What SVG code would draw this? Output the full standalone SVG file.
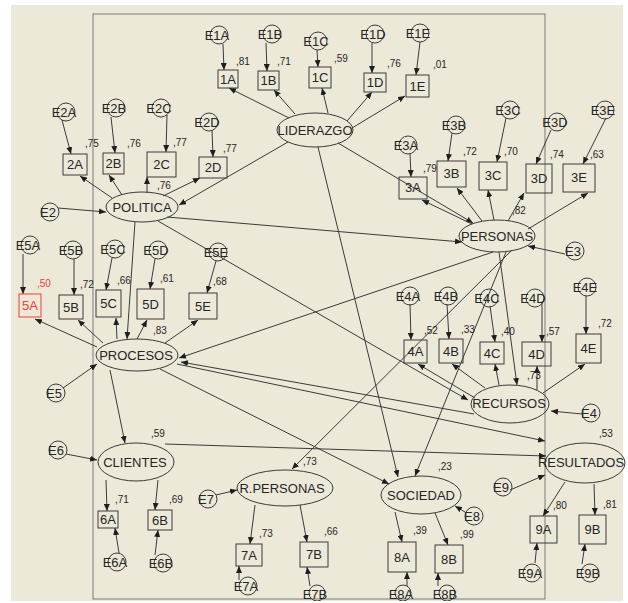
<svg xmlns="http://www.w3.org/2000/svg" width="628" height="603" viewBox="0 0 628 603">
<style>
text{font-family:"Liberation Sans",Arial,sans-serif;fill:#262626}
.t{font-size:13px;text-anchor:middle}
.n{font-size:10px}
.r{fill:#f03c3c}
.b{fill:none;stroke:#3a3a3a;stroke-width:1}
.e{fill:none;stroke:#3a3a3a;stroke-width:1}
.c line{stroke:#3a3a3a;stroke-width:1;marker-end:url(#ah)}
</style>
<defs>
<marker id="ah" markerUnits="userSpaceOnUse" markerWidth="7" markerHeight="6" refX="7" refY="3" orient="auto"><path d="M0,0 L7,3 L0,6 z" fill="#1e1e1e"/></marker>
<clipPath id="cp"><rect x="0" y="0" width="628" height="601"/></clipPath>
</defs>
<rect x="0" y="0" width="628" height="603" fill="#ffffff"/>
<rect x="11" y="5" width="612" height="596" fill="#ece9d8"/>
<g clip-path="url(#cp)">
<rect x="93" y="14" width="452" height="585" fill="none" stroke="#7a7a7a" stroke-width="1"/>
<g id="connectors" class="c">
<line x1="223" y1="44" x2="224" y2="70"/>
<line x1="266" y1="43" x2="267" y2="71"/>
<line x1="317" y1="50" x2="318" y2="67"/>
<line x1="372" y1="43" x2="372" y2="73"/>
<line x1="420" y1="42" x2="416" y2="75"/>
<line x1="289" y1="118" x2="229" y2="88"/>
<line x1="295" y1="114" x2="274" y2="90"/>
<line x1="328" y1="113" x2="322" y2="88"/>
<line x1="347" y1="121" x2="372" y2="92"/>
<line x1="352" y1="128" x2="405" y2="96"/>
<line x1="288" y1="142" x2="179" y2="205"/>
<line x1="338" y1="143" x2="473" y2="223"/>
<line x1="318" y1="147" x2="398" y2="477"/>
<line x1="62" y1="120" x2="71" y2="154"/>
<line x1="111" y1="117" x2="115" y2="153"/>
<line x1="167" y1="115" x2="166" y2="152"/>
<line x1="212" y1="130" x2="213" y2="157"/>
<line x1="112" y1="198" x2="80" y2="176"/>
<line x1="122" y1="195" x2="109" y2="175"/>
<line x1="147" y1="193" x2="147" y2="177"/>
<line x1="163" y1="196" x2="200" y2="178"/>
<line x1="58" y1="208" x2="106" y2="212"/>
<line x1="167" y1="217" x2="462" y2="242"/>
<line x1="158" y1="221" x2="468" y2="400"/>
<line x1="135" y1="222" x2="127" y2="339"/>
<line x1="410" y1="153" x2="411" y2="177"/>
<line x1="452" y1="133" x2="448" y2="161"/>
<line x1="506" y1="118" x2="497" y2="162"/>
<line x1="551" y1="130" x2="536" y2="164"/>
<line x1="606" y1="118" x2="583" y2="164"/>
<line x1="472" y1="224" x2="422" y2="200"/>
<line x1="482" y1="221" x2="457" y2="188"/>
<line x1="494" y1="220" x2="488" y2="190"/>
<line x1="508" y1="221" x2="524" y2="193"/>
<line x1="528" y1="229" x2="588" y2="193"/>
<line x1="565" y1="254" x2="528" y2="246"/>
<line x1="499" y1="252" x2="517" y2="385"/>
<line x1="493" y1="252" x2="179" y2="358"/>
<line x1="512" y1="250" x2="292" y2="469"/>
<line x1="506" y1="252" x2="415" y2="476"/>
<line x1="23" y1="254" x2="23" y2="294"/>
<line x1="74" y1="259" x2="74" y2="295"/>
<line x1="112" y1="258" x2="106" y2="290"/>
<line x1="155" y1="259" x2="150" y2="289"/>
<line x1="216" y1="261" x2="207" y2="293"/>
<line x1="97" y1="347" x2="35" y2="319"/>
<line x1="103" y1="343" x2="78" y2="320"/>
<line x1="117" y1="339" x2="116" y2="318"/>
<line x1="137" y1="339" x2="147" y2="320"/>
<line x1="165" y1="343" x2="198" y2="320"/>
<line x1="63" y1="388" x2="97" y2="364"/>
<line x1="110" y1="370" x2="125" y2="443"/>
<line x1="160" y1="369" x2="389" y2="484"/>
<line x1="177" y1="364" x2="545" y2="441"/>
<line x1="474" y1="414" x2="181" y2="362"/>
<line x1="410" y1="304" x2="411" y2="340"/>
<line x1="447" y1="304" x2="449" y2="339"/>
<line x1="490" y1="306" x2="495" y2="342"/>
<line x1="542" y1="302" x2="542" y2="342"/>
<line x1="586" y1="296" x2="586" y2="334"/>
<line x1="475" y1="398" x2="418" y2="364"/>
<line x1="485" y1="388" x2="452" y2="364"/>
<line x1="499" y1="385" x2="495" y2="364"/>
<line x1="537" y1="390" x2="537" y2="366"/>
<line x1="543" y1="393" x2="585" y2="364"/>
<line x1="582" y1="414" x2="551" y2="411"/>
<line x1="106" y1="480" x2="107" y2="511"/>
<line x1="158" y1="480" x2="155" y2="510"/>
<line x1="119" y1="553" x2="115" y2="528"/>
<line x1="155" y1="555" x2="158" y2="530"/>
<line x1="66" y1="454" x2="97" y2="460"/>
<line x1="165" y1="444" x2="546" y2="456"/>
<line x1="216" y1="495" x2="237" y2="490"/>
<line x1="255" y1="505" x2="250" y2="544"/>
<line x1="300" y1="505" x2="307" y2="542"/>
<line x1="239" y1="580" x2="239" y2="566"/>
<line x1="310" y1="586" x2="307" y2="567"/>
<line x1="395" y1="512" x2="402" y2="542"/>
<line x1="435" y1="513" x2="448" y2="545"/>
<line x1="465" y1="512" x2="455" y2="506"/>
<line x1="407" y1="586" x2="407" y2="572"/>
<line x1="438" y1="586" x2="438" y2="573"/>
<line x1="510" y1="490" x2="545" y2="475"/>
<line x1="565" y1="482" x2="543" y2="516"/>
<line x1="594" y1="484" x2="595" y2="515"/>
<line x1="535" y1="563" x2="537" y2="543"/>
<line x1="582" y1="564" x2="585" y2="544"/>
</g>
<g id="LIDERAZGO"><ellipse class="e" cx="315" cy="130" rx="38" ry="17"/><text class="t" x="315" y="135">LIDERAZGO</text></g>
<g id="POLITICA"><ellipse class="e" cx="142" cy="207" rx="36" ry="15"/><text class="t" x="142" y="212">POLITICA</text><text class="n" x="157" y="189">,76</text></g>
<g id="PERSONAS"><ellipse class="e" cx="497" cy="236" rx="38" ry="16"/><text class="t" x="497" y="241">PERSONAS</text><text class="n" x="512" y="214">,82</text></g>
<g id="PROCESOS"><ellipse class="e" cx="137" cy="355" rx="41" ry="16"/><text class="t" x="136" y="360">PROCESOS</text><text class="n" x="153" y="334">,83</text></g>
<g id="RECURSOS"><ellipse class="e" cx="510" cy="404" rx="39" ry="19"/><text class="t" x="509" y="408">RECURSOS</text><text class="n" x="527" y="379">,73</text></g>
<g id="CLIENTES"><ellipse class="e" cx="136" cy="462" rx="38" ry="19"/><text class="t" x="135" y="467">CLIENTES</text><text class="n" x="151" y="437">,59</text></g>
<g id="RPERSONAS"><ellipse class="e" cx="285" cy="488" rx="48" ry="18"/><text class="t" x="282" y="493">R.PERSONAS</text><text class="n" x="303" y="465">,73</text></g>
<g id="SOCIEDAD"><ellipse class="e" cx="421" cy="495" rx="40" ry="19"/><text class="t" x="421" y="500">SOCIEDAD</text><text class="n" x="438" y="470">,23</text></g>
<g id="RESULTADOS"><ellipse class="e" cx="585" cy="463" rx="40" ry="20"/><text class="t" x="581" y="467">RESULTADOS</text><text class="n" x="599" y="437">,53</text></g>
<g id="v1A"><rect class="b" x="218" y="70" width="20" height="18"/><text class="t" x="228" y="84">1A</text><text class="n" x="236" y="65">,81</text></g>
<g id="v1B"><rect class="b" x="258" y="71" width="21" height="19"/><text class="t" x="268.5" y="85">1B</text><text class="n" x="277" y="65">,71</text></g>
<g id="v1C"><rect class="b" x="309" y="67" width="22" height="21"/><text class="t" x="320" y="82">1C</text><text class="n" x="334" y="62">,59</text></g>
<g id="v1D"><rect class="b" x="364" y="73" width="22" height="19"/><text class="t" x="375" y="87">1D</text><text class="n" x="387" y="67">,76</text></g>
<g id="v1E"><rect class="b" x="406" y="75" width="23" height="22"/><text class="t" x="417.5" y="91">1E</text><text class="n" x="433" y="68">,01</text></g>
<g id="v2A"><rect class="b" x="63" y="154" width="24" height="21"/><text class="t" x="75" y="169">2A</text><text class="n" x="85" y="147">,75</text></g>
<g id="v2B"><rect class="b" x="103" y="153" width="21" height="21"/><text class="t" x="113.5" y="168">2B</text><text class="n" x="127" y="147">,76</text></g>
<g id="v2C"><rect class="b" x="147" y="152" width="29" height="25"/><text class="t" x="161.5" y="169">2C</text><text class="n" x="173" y="146">,77</text></g>
<g id="v2D"><rect class="b" x="199" y="157" width="28" height="21"/><text class="t" x="213" y="172">2D</text><text class="n" x="223" y="152">,77</text></g>
<g id="v3A"><rect class="b" x="399" y="177" width="28" height="22"/><text class="t" x="413" y="192">3A</text><text class="n" x="423" y="172">,79</text></g>
<g id="v3B"><rect class="b" x="437" y="161" width="29" height="26"/><text class="t" x="451.5" y="178">3B</text><text class="n" x="463" y="155">,72</text></g>
<g id="v3C"><rect class="b" x="479" y="162" width="28" height="28"/><text class="t" x="493" y="180">3C</text><text class="n" x="504" y="155">,70</text></g>
<g id="v3D"><rect class="b" x="526" y="164" width="26" height="29"/><text class="t" x="539" y="183">3D</text><text class="n" x="550" y="158">,74</text></g>
<g id="v3E"><rect class="b" x="563" y="164" width="32" height="28"/><text class="t" x="579" y="182">3E</text><text class="n" x="590" y="158">,63</text></g>
<g id="v4A"><rect class="b" x="404" y="340" width="23" height="23"/><text class="t" x="415.5" y="356">4A</text><text class="n" x="424" y="334">,52</text></g>
<g id="v4B"><rect class="b" x="439" y="339" width="24" height="24"/><text class="t" x="451" y="356">4B</text><text class="n" x="461" y="333">,33</text></g>
<g id="v4C"><rect class="b" x="480" y="342" width="24" height="22"/><text class="t" x="492" y="358">4C</text><text class="n" x="501" y="335">,40</text></g>
<g id="v4D"><rect class="b" x="522" y="342" width="29" height="24"/><text class="t" x="536.5" y="359">4D</text><text class="n" x="546" y="335">,57</text></g>
<g id="v4E"><rect class="b" x="576" y="334" width="25" height="29"/><text class="t" x="588.5" y="353">4E</text><text class="n" x="598" y="327">,72</text></g>
<g id="v5A"><rect x="19" y="294" width="22" height="23" fill="none" stroke="#f03c3c"/><text class="t r" x="30" y="310">5A</text><text class="n r" x="37" y="287">,50</text></g>
<g id="v5B"><rect class="b" x="59" y="295" width="24" height="24"/><text class="t" x="71" y="312">5B</text><text class="n" x="80" y="288">,72</text></g>
<g id="v5C"><rect class="b" x="96" y="290" width="25" height="27"/><text class="t" x="108.5" y="308">5C</text><text class="n" x="117" y="284">,66</text></g>
<g id="v5D"><rect class="b" x="137" y="289" width="27" height="30"/><text class="t" x="150.5" y="309">5D</text><text class="n" x="160" y="282">,61</text></g>
<g id="v5E"><rect class="b" x="189" y="293" width="28" height="26"/><text class="t" x="203" y="311">5E</text><text class="n" x="213" y="285">,68</text></g>
<g id="v6A"><rect class="b" x="98" y="511" width="20" height="17"/><text class="t" x="108" y="524">6A</text><text class="n" x="115" y="503">,71</text></g>
<g id="v6B"><rect class="b" x="148" y="510" width="24" height="20"/><text class="t" x="160" y="525">6B</text><text class="n" x="169" y="503">,69</text></g>
<g id="v7A"><rect class="b" x="236" y="544" width="26" height="22"/><text class="t" x="249" y="560">7A</text><text class="n" x="259" y="537">,73</text></g>
<g id="v7B"><rect class="b" x="300" y="542" width="28" height="25"/><text class="t" x="314" y="559">7B</text><text class="n" x="324" y="535">,66</text></g>
<g id="v8A"><rect class="b" x="388" y="542" width="28" height="30"/><text class="t" x="402" y="562">8A</text><text class="n" x="413" y="534">,39</text></g>
<g id="v8B"><rect class="b" x="435" y="545" width="28" height="28"/><text class="t" x="449" y="564">8B</text><text class="n" x="460" y="538">,99</text></g>
<g id="v9A"><rect class="b" x="530" y="516" width="27" height="27"/><text class="t" x="543.5" y="534">9A</text><text class="n" x="553" y="509">,80</text></g>
<g id="v9B"><rect class="b" x="579" y="515" width="27" height="29"/><text class="t" x="592.5" y="534">9B</text><text class="n" x="603" y="508">,81</text></g>
<g id="E1A"><circle class="e" cx="219" cy="35" r="9"/><text class="t" x="217" y="40">E1A</text></g>
<g id="E1B"><circle class="e" cx="272" cy="34" r="9"/><text class="t" x="270" y="39">E1B</text></g>
<g id="E1C"><circle class="e" cx="318" cy="41" r="9"/><text class="t" x="316" y="46">E1C</text></g>
<g id="E1D"><circle class="e" cx="375" cy="34" r="9"/><text class="t" x="373" y="39">E1D</text></g>
<g id="E1E"><circle class="e" cx="420" cy="33" r="9"/><text class="t" x="418" y="38">E1E</text></g>
<g id="E2A"><circle class="e" cx="66" cy="112" r="9"/><text class="t" x="64" y="117">E2A</text></g>
<g id="E2B"><circle class="e" cx="116" cy="108" r="9"/><text class="t" x="114" y="113">E2B</text></g>
<g id="E2C"><circle class="e" cx="161" cy="108" r="9"/><text class="t" x="159" y="113">E2C</text></g>
<g id="E2D"><circle class="e" cx="209" cy="122" r="9"/><text class="t" x="207" y="127">E2D</text></g>
<g id="E2"><circle class="e" cx="50" cy="212" r="9"/><text class="t" x="48" y="217">E2</text></g>
<g id="E3A"><circle class="e" cx="408" cy="145" r="9"/><text class="t" x="406" y="150">E3A</text></g>
<g id="E3B"><circle class="e" cx="456" cy="125" r="9"/><text class="t" x="454" y="130">E3B</text></g>
<g id="E3C"><circle class="e" cx="510" cy="110" r="9"/><text class="t" x="508" y="115">E3C</text></g>
<g id="E3D"><circle class="e" cx="557" cy="122" r="9"/><text class="t" x="555" y="127">E3D</text></g>
<g id="E3E"><circle class="e" cx="605" cy="110" r="9"/><text class="t" x="603" y="115">E3E</text></g>
<g id="E3"><circle class="e" cx="575" cy="251" r="9"/><text class="t" x="573" y="256">E3</text></g>
<g id="E4A"><circle class="e" cx="410" cy="296" r="9"/><text class="t" x="408" y="301">E4A</text></g>
<g id="E4B"><circle class="e" cx="448" cy="296" r="9"/><text class="t" x="446" y="301">E4B</text></g>
<g id="E4C"><circle class="e" cx="489" cy="298" r="9"/><text class="t" x="487" y="303">E4C</text></g>
<g id="E4D"><circle class="e" cx="535" cy="298" r="9"/><text class="t" x="533" y="303">E4D</text></g>
<g id="E4E"><circle class="e" cx="587" cy="287" r="9"/><text class="t" x="585" y="292">E4E</text></g>
<g id="E4"><circle class="e" cx="591" cy="413" r="9"/><text class="t" x="589" y="418">E4</text></g>
<g id="E5A"><circle class="e" cx="30" cy="245" r="9"/><text class="t" x="28" y="250">E5A</text></g>
<g id="E5B"><circle class="e" cx="73" cy="250" r="9"/><text class="t" x="71" y="255">E5B</text></g>
<g id="E5C"><circle class="e" cx="115" cy="249" r="9"/><text class="t" x="113" y="254">E5C</text></g>
<g id="E5D"><circle class="e" cx="158" cy="250" r="9"/><text class="t" x="156" y="255">E5D</text></g>
<g id="E5E"><circle class="e" cx="218" cy="252" r="9"/><text class="t" x="216" y="257">E5E</text></g>
<g id="E5"><circle class="e" cx="56" cy="393" r="9"/><text class="t" x="54" y="398">E5</text></g>
<g id="E6"><circle class="e" cx="58" cy="450" r="9"/><text class="t" x="56" y="455">E6</text></g>
<g id="E6A"><circle class="e" cx="117" cy="562" r="9"/><text class="t" x="115" y="567">E6A</text></g>
<g id="E6B"><circle class="e" cx="163" cy="563" r="9"/><text class="t" x="161" y="568">E6B</text></g>
<g id="E7"><circle class="e" cx="208" cy="499" r="9"/><text class="t" x="206" y="504">E7</text></g>
<g id="E7A"><circle class="e" cx="248" cy="586" r="9"/><text class="t" x="246" y="591">E7A</text></g>
<g id="E7B"><circle class="e" cx="317" cy="593" r="8"/><text class="t" x="315" y="599">E7B</text></g>
<g id="E8"><circle class="e" cx="474" cy="516" r="9"/><text class="t" x="472" y="521">E8</text></g>
<g id="E8A"><circle class="e" cx="403" cy="593" r="8"/><text class="t" x="401" y="599">E8A</text></g>
<g id="E8B"><circle class="e" cx="447" cy="593" r="8"/><text class="t" x="445" y="599">E8B</text></g>
<g id="E9"><circle class="e" cx="503" cy="487" r="9"/><text class="t" x="501" y="492">E9</text></g>
<g id="E9A"><circle class="e" cx="532" cy="573" r="9"/><text class="t" x="530" y="578">E9A</text></g>
<g id="E9B"><circle class="e" cx="590" cy="573" r="9"/><text class="t" x="588" y="578">E9B</text></g>
</g>
</svg>
